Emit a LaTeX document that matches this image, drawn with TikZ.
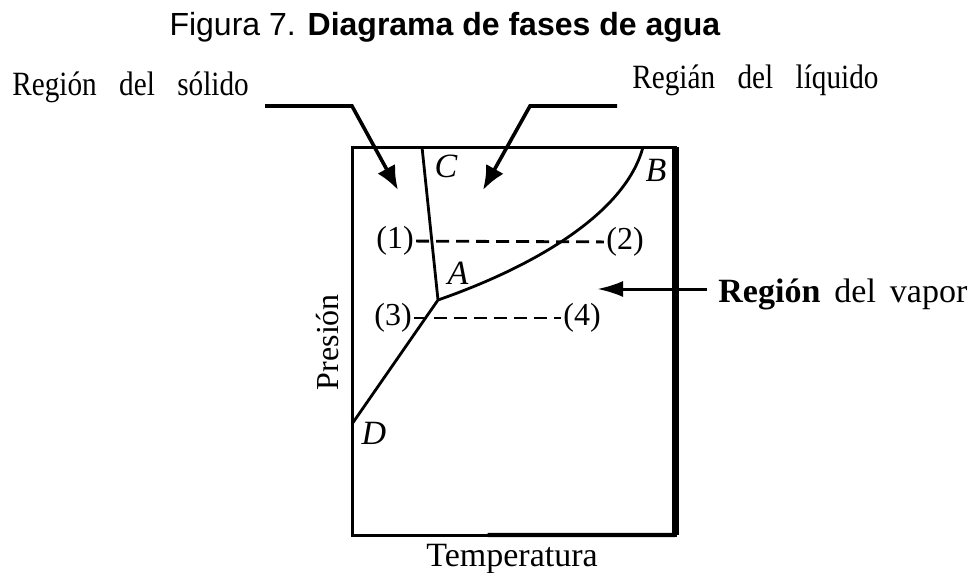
\documentclass[tikz,border=0pt]{standalone}
\usepackage{fontspec}
\setmainfont{Liberation Serif}
\newfontfamily\arialfont{Liberation Sans}
\usetikzlibrary{arrows.meta, positioning, calc}
\newcommand\espacioancho{\spaceskip=13pt plus 1pt\relax}
\newcommand\espaciovapor{\spaceskip=7pt plus 1pt\relax}

\begin{document}
\begin{tikzpicture}[
    x=0.5pt, y=-0.5pt,
    font=\fontsize{15}{18}\selectfont,
    borde/.style={line width=1.5pt, black},
    curva/.style={line width=1.4pt, black},
    puntos/.style={line width=1.4pt, dash pattern=on 6.5pt off 3.5pt},
    flecha/.style={-{Latex[length=12pt, width=10pt]}, line width=1.8pt},
    flechav/.style={-{Latex[length=13pt, width=8pt]}, line width=1.5pt},
    rotulo/.style={font={\fontsize{17}{20}\selectfont\espacioancho}, inner sep=0pt, xscale=0.86},
    letra/.style={font=\fontsize{17}{18}\selectfont\itshape, inner sep=0pt},
    estado/.style={font=\fontsize{16}{18}\selectfont, inner sep=1pt},
]
\useasboundingbox (0,0) rectangle (975,573);

% titulo
\node[font=\arialfont\fontsize{16}{19}\selectfont, anchor=base, inner sep=0pt] (titulo) at (445,35)
    {Figura 7. \textbf{Diagrama de fases de agua}};

% marco del diagrama
\coordinate (so) at (352,535);
\coordinate (ne) at (675,147);
\draw[borde] (so) rectangle (ne);
\draw[line width=3.5pt] (ne) -- (ne |- so);
\draw[line width=2.2pt] ($(so)!0.42!(so -| ne)$) -- (so -| ne);

% curvas de equilibrio
\coordinate (A) at (438,300);
\coordinate (Csup) at (422,147);
\coordinate (Bsup) at (643,147);
\coordinate (Dinf) at (352,424);
\draw[curva] (Csup) -- (A) -- (Dinf);
\draw[curva] (A) .. controls (530,268) and (625,215) .. (Bsup);

\node[letra] (lC) at (446,166) {C};
\node[letra] (lA) at (458,273) {A};
\node[letra] (lB) at (656,170) {B};
\node[letra] (lD) at (374,433) {D};

% estados (1)-(4)
\node[estado] (p1) at (395,241) {(1)};
\node[estado] (p2) at (625,242) {(2)};
\node[estado] (p3) at (393,318) {(3)};
\node[estado] (p4) at (582,318) {(4)};
\draw[puntos] (p1) -- (p2);
\draw[puntos] (p3) -- (p4);

% ejes
\node[font=\fontsize{16}{18}\selectfont, rotate=90] (presion) at (328,342) {Presión};
\node[font=\fontsize{17}{18}\selectfont, anchor=base] (temp) at (512,566) {Temperatura};

% regiones
\node[rotulo, anchor=base west] (solido) at (12,95) {Región del sólido};
\node[rotulo, anchor=base west] (liquido) at (632,88) {Regián del líquido};
\node[font=\fontsize{17}{20}\selectfont\espaciovapor, anchor=base west, inner sep=0pt] (vapor) at (718,302)
    {\textbf{Región} del vapor};

\coordinate (sol1) at (265,106);
\coordinate (sol2) at (352,106);
\coordinate (solTip) at (398,190);
\coordinate (liq1) at (617,106);
\coordinate (liq2) at (530,106);
\coordinate (liqTip) at (483,190);
\coordinate (vap1) at (707,289);
\coordinate (vapTip) at (597,289);
\draw[flecha] (sol1) -- (sol2) -- (solTip);
\draw[flecha] (liq1) -- (liq2) -- (liqTip);
\draw[flechav] (vap1) -- (vapTip);

\end{tikzpicture}
\end{document}
